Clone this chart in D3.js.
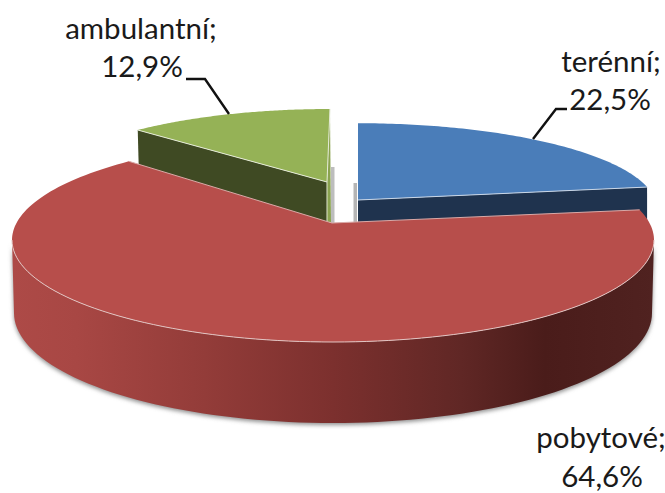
<!DOCTYPE html>
<html><head><meta charset="utf-8">
<script src="https://cdn.jsdelivr.net/npm/d3@7"></script>
<style>html,body{margin:0;padding:0;background:#fff}svg{display:block}text{font-family:Lato,sans-serif;fill:#1a1a1a}</style>
</head><body><svg id="c" width="665" height="493"></svg>
<script>
const categories = ["terénní", "pobytové", "ambulantní"];
const shares = [22.5, 64.6, 12.9];
const valueLabels = ["22,5%", "64,6%", "12,9%"];
const topColors = ["#4a7db9", "#b74e4b", "#95b256"];
const faceColors = ["#1f334e", "#4a1c1a", "#3f4a23"];

const svg = d3.select("#c");
const arcs = d3.pie().sort(null).value(d => d)(shares);
const line = d3.line();
const sample = (a0, a1, f, n = 90) => d3.range(n + 1).map(i => f(a0 + (a1 - a0) * i / n));

// perspective projection of an exploded wedge's top surface
const persp = (p) => (a) => {
  const u = Math.sin(a), v = Math.cos(a), w = 1 + p.k * v;
  return [p.x + (p.A * u + p.s * v) / w, p.y - p.B * v / w];
};
const rad = d => d * Math.PI / 180;
const blueRim = persp({x: 358, y: 200, A: 297, B: 84, k: 0.094, s: 0});
const greenRim = persp({x: 327, y: 182, A: 285, B: 81.4, k: 0.115, s: 3.3});

// the big wedge sits on a true ellipse
const redTop = {cx: 333, cy: 240, rx: 321, ry: 102};
const redBase = {cx: 333, cy: 313, rx: 319, ry: 110};
const ell = (e, phi) => [e.cx + e.rx * Math.sin(phi), e.cy - e.ry * Math.cos(phi)];
const phase = d3.scaleLinear().domain([arcs[1].startAngle, arcs[1].endAngle]).range([rad(72.8), rad(320.5)]);
const redRim = a => ell(redTop, phase(a));

const defs = svg.append("defs");
defs.append("filter").attr("id", "blur").attr("x", "-10%").attr("y", "-10%").attr("width", "120%").attr("height", "120%")
  .append("feGaussianBlur").attr("stdDeviation", 2);
const grad = defs.append("linearGradient").attr("id", "wall").attr("gradientUnits", "userSpaceOnUse")
  .attr("x1", 12).attr("x2", 654).attr("y1", 0).attr("y2", 0);
[[0, "#ad4a47"], [0.1, "#a84744"], [0.3, "#933c39"], [0.5, "#7c302e"], [0.7, "#602725"], [0.83, "#4a1c1a"], [1, "#502220"]]
  .forEach(([o, c]) => grad.append("stop").attr("offset", o).attr("stop-color", c));

// soft shadow under the wall
const wallPts = sample(rad(90), rad(270), a => ell(redTop, a))
  .concat(sample(rad(270), rad(90), a => ell(redBase, a)));
svg.append("path").attr("d", line(wallPts) + "Z").attr("fill", "#8f8f8f").attr("filter", "url(#blur)")
  .attr("transform", "translate(0,2)");

// shadows beside the gap
svg.append("rect").attr("x", 331).attr("y", 167).attr("width", 3.5).attr("height", 56).attr("fill", "#bdbdbd");
svg.append("rect").attr("x", 353.5).attr("y", 183).attr("width", 3.5).attr("height", 40).attr("fill", "#b5b5b5");

// blue wedge
const bA = arcs[0];
const bEnd = blueRim(bA.endAngle), bStart = blueRim(bA.startAngle);
svg.append("path").attr("d", line([[358, 200], bEnd, [bEnd[0], bEnd[1] + 45], [358, 245]]) + "Z").attr("fill", faceColors[0]);
svg.append("path").attr("d", line([[358, 200]].concat(sample(bA.startAngle, bA.endAngle, blueRim))) + "Z")
  .attr("fill", topColors[0]);
svg.append("path").attr("d", line([bEnd, [358, 200]])).attr("fill", "none").attr("stroke", "#c9d6e6").attr("stroke-width", 1);

// green wedge
const gA = arcs[2];
const gStart = greenRim(gA.startAngle), gEnd = greenRim(gA.endAngle);
const gFaceDrop = 38;
svg.append("path").attr("d", line([[327, 182], gEnd, [331, 222], [327, 222]]) + "Z").attr("fill", "#8aa34f");
svg.append("path").attr("d", line([[327, 182], gStart, [gStart[0] + 1, gStart[1] + gFaceDrop], [327, 222]]) + "Z").attr("fill", faceColors[2]);
svg.append("path").attr("d", line([[327, 182]].concat(sample(gA.startAngle, gA.endAngle, greenRim))) + "Z").attr("fill", topColors[2]);
svg.append("path").attr("d", line([gStart, [327, 182], gEnd])).attr("fill", "none").attr("stroke", "#e4ead6").attr("stroke-width", 1);
svg.append("path").attr("d", line([[327, 182], [327, 222]])).attr("stroke", "#dfe5cf").attr("stroke-width", 1);

// red wedge
const rA = arcs[1];
const apex = [332, 223];
svg.append("path").attr("d", line(wallPts) + "Z").attr("fill", "url(#wall)");
svg.append("path").attr("d", line([apex].concat(sample(rA.startAngle, rA.endAngle, redRim, 180))) + "Z").attr("fill", topColors[1]);
svg.append("path").attr("d", line(sample(rad(90), rad(270), a => ell(redTop, a))))
  .attr("fill", "none").attr("stroke", "#e2c4c2").attr("stroke-width", 1);
svg.append("path").attr("d", line([redRim(rA.endAngle), apex, redRim(rA.startAngle)]))
  .attr("fill", "none").attr("stroke", "#d9a9a7").attr("stroke-width", 1);

// leaders
const leaderStroke = {fill: "none", stroke: "#111", "stroke-width": 2.4};
const leaders = [[[567, 109], [556, 109], [533, 139]], [[186, 79], [205, 79], [229, 114]]];
leaders.forEach(l => {
  const p = svg.append("path").attr("d", line(l));
  Object.entries(leaderStroke).forEach(([k, v]) => p.attr(k, v));
});

// labels
const labelPos = [
  {x: 611, y1: 72, x2: 610, y2: 110},
  {x: 601, y1: 448, x2: 602, y2: 487},
  {x: 141, y1: 39, x2: 142, y2: 77}
];
categories.forEach((c, i) => {
  const lp = labelPos[i];
  svg.append("text").attr("x", lp.x).attr("y", lp.y1).attr("text-anchor", "middle").attr("font-size", 29.5).text(c + ";");
  svg.append("text").attr("x", lp.x2).attr("y", lp.y2).attr("text-anchor", "middle").attr("font-size", 29.5).text(valueLabels[i]);
});
</script></body></html>
